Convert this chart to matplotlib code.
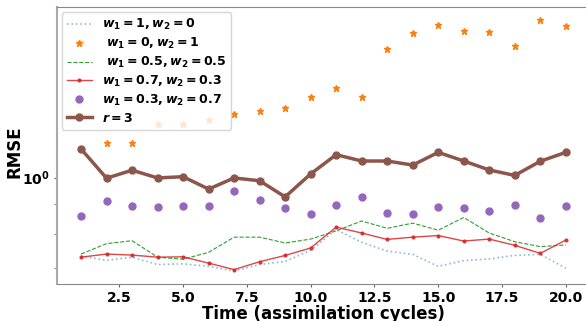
import numpy as np
import matplotlib.pyplot as plt

plt.rcParams['mathtext.fontset'] = 'custom'
plt.rcParams['mathtext.rm'] = 'DejaVu Sans:bold'
plt.rcParams['mathtext.it'] = 'DejaVu Sans:italic:bold'
plt.rcParams['mathtext.bf'] = 'DejaVu Sans:bold'
plt.rcParams['font.weight'] = 'bold'

cycles = np.arange(1, 21)

# RMSE per assimilation cycle
rmse_w10 = [0.734, 0.722, 0.731, 0.710, 0.712, 0.705, 0.692, 0.710, 0.719, 0.751,
            0.815, 0.775, 0.749, 0.739, 0.705, 0.721, 0.726, 0.736, 0.739, 0.700]
rmse_w01 = [1.707, 1.145, 1.145, 1.236, 1.237, 1.254, 1.287, 1.301, 1.315, 1.376,
            1.424, 1.373, 1.659, 1.769, 1.824, 1.781, 1.776, 1.679, 1.865, 1.816]
rmse_w55 = [0.740, 0.771, 0.780, 0.731, 0.725, 0.745, 0.791, 0.791, 0.773, 0.785,
            0.811, 0.843, 0.819, 0.836, 0.813, 0.855, 0.804, 0.777, 0.762, 0.767]
rmse_w73 = [0.731, 0.740, 0.737, 0.731, 0.732, 0.714, 0.696, 0.718, 0.736, 0.758,
            0.823, 0.804, 0.784, 0.791, 0.796, 0.779, 0.785, 0.766, 0.742, 0.782]
rmse_w37 = [0.861, 0.913, 0.893, 0.892, 0.896, 0.896, 0.950, 0.916, 0.887, 0.868,
            0.898, 0.927, 0.869, 0.868, 0.892, 0.888, 0.878, 0.897, 0.854, 0.893]
rmse_r3 = [1.120, 0.998, 1.030, 0.999, 1.004, 0.956, 0.999, 0.988, 0.927, 1.015,
           1.095, 1.068, 1.068, 1.051, 1.105, 1.068, 1.031, 1.009, 1.067, 1.105]

fig = plt.figure(figsize=(5.86, 3.21), dpi=100)
ax = fig.add_axes([0.0969, 0.1143, 0.910, 0.863])

ax.plot(cycles, rmse_w10, ':', color='tab:blue', alpha=0.5, lw=1.2,
        label=r'$w_1 = 1, w_2 = 0$')
ax.plot(cycles, rmse_w01, '*', color='tab:orange', ms=5, ls='none',
        label=r' $w_1 = 0, w_2 = 1$')
ax.plot(cycles, rmse_w55, '--', color='tab:green', lw=0.8,
        label=r' $w_1 = 0.5, w_2 = 0.5$')
ax.plot(cycles, rmse_w73, '-', marker='.', color='tab:red', lw=1, ms=4,
        alpha=0.85, label=r'$w_1 = 0.7, w_2 = 0.3$')
ax.plot(cycles, rmse_w37, 'o', color='tab:purple', ms=5, ls='none',
        label=r'$w_1 = 0.3, w_2 = 0.7$')
ax.plot(cycles, rmse_r3, '-o', color='tab:brown', lw=2.5, ms=5,
        label=r'$r = 3$')

ax.set_yscale('log')
ax.set_ylim(0.6568, 1.958)
ax.set_xlim(0.05, 20.95)
ax.set_xticks([2.5, 5.0, 7.5, 10.0, 12.5, 15.0, 17.5, 20.0])

for s in ax.spines.values():
    s.set_color('#888888')
ax.spines['left'].set_color('#aaaaaa')
ax.spines['left'].set_linewidth(1.5)

ax.tick_params(axis='both', which='both', colors='#666666', labelcolor='black',
               labelsize=10, length=2, pad=3)
ax.set_xlabel('Time (assimilation cycles)', fontsize=12, fontweight='bold', labelpad=0)
ax.set_ylabel('RMSE', fontsize=12, fontweight='bold')
ax.yaxis.set_label_coords(-0.062, 0.48)

ax.legend(loc='upper left', fontsize=9, framealpha=0.8, borderaxespad=0.4,
          handlelength=2.0, labelspacing=0.3)

fig.savefig('out.png', dpi=100)
